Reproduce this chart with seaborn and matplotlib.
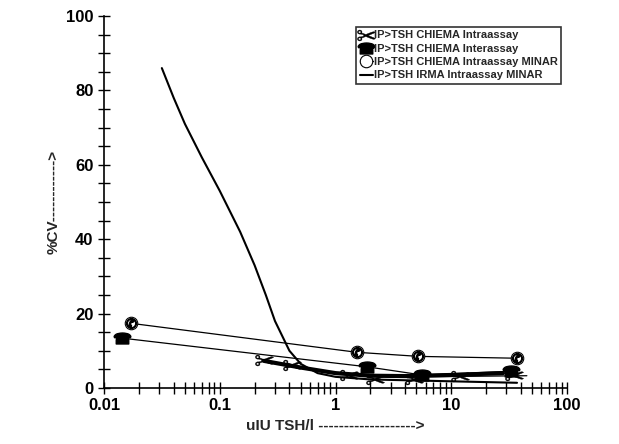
import matplotlib
matplotlib.use('Agg')
import matplotlib.pyplot as plt
import seaborn as sns
from matplotlib.ticker import MultipleLocator, LogLocator, FixedFormatter, FixedLocator

sns.set_theme(style='ticks')
plt.rcParams['font.family'] = ['Liberation Sans', 'DejaVu Sans']

# CHIEMA intraassay (scissors) and its fitted curve
intra_x = [0.24, 0.42, 1.3, 2.2, 4.8, 12, 35]
intra_y = [7.5, 6.2, 3.5, 2.5, 2.5, 3.2, 3.5]
intra_fit_x = [0.24, 0.5, 1.0, 2.0, 4.0, 10, 28]
intra_fit_y = [7.3, 5.5, 4.0, 3.3, 3.2, 3.5, 4.0]
intra_tail_x = [0.24, 1.0, 5.0, 45]
intra_tail_y = [7.5, 4.0, 3.0, 3.3]

# CHIEMA interassay (telephone)
inter_x = [0.0144, 1.87, 5.6, 33]
inter_y = [13.4, 5.7, 3.5, 4.5]

# CHIEMA intraassay MINAR
minar_x = [0.017, 1.53, 5.2, 37]
minar_y = [17.4, 9.6, 8.5, 8.0]

# IRMA intraassay MINAR
irma_x = [0.0316, 0.04, 0.05, 0.07, 0.1, 0.15, 0.2, 0.25, 0.3, 0.4, 0.5, 0.7, 1.0, 2.0, 10, 37]
irma_y = [86, 78, 71, 62, 53, 42, 33, 25, 18, 10, 6.5, 4, 3, 2.3, 1.8, 1.4]

fig = plt.figure(figsize=(6.19, 4.44), dpi=100)
ax = fig.add_axes([104 / 619, 1 - 388 / 444, 463 / 619, 372 / 444])

sns.lineplot(x=intra_tail_x, y=intra_tail_y, color='black', lw=0.9, ax=ax)
sns.lineplot(x=intra_fit_x, y=intra_fit_y, color='black', lw=3, ax=ax)
ax.plot(intra_x, intra_y, ls='none', marker='$\u2702$', ms=13, color='black', mew=0.3,
        label='IP>TSH CHIEMA Intraassay')
ax.plot(inter_x, inter_y, color='black', lw=0.9, marker='$\u260E$', ms=12,
        label='IP>TSH CHIEMA Interassay')
ax.plot(minar_x, minar_y, color='black', lw=0.9, marker='o', ms=9, mfc='white', mew=0.8,
        label='IP>TSH CHIEMA Intraassay MINAR')
ax.plot(minar_x, minar_y, ls='none', marker='$\u2706$', ms=7, color='black')
sns.lineplot(x=irma_x, y=irma_y, color='black', lw=1.5, ax=ax,
             label='IP>TSH IRMA Intraassay MINAR')

ax.set_xscale('log')
ax.set_xlim(0.01, 100)
ax.set_ylim(0, 100)
ax.xaxis.set_major_locator(FixedLocator([0.01, 0.1, 1, 10, 100]))
ax.xaxis.set_major_formatter(FixedFormatter(['0.01', '0.1', '1', '10', '100']))
ax.xaxis.set_minor_locator(LogLocator(base=10, subs=range(2, 10)))
ax.yaxis.set_major_locator(MultipleLocator(20))
ax.yaxis.set_minor_locator(MultipleLocator(5))
for lab in ax.get_xticklabels() + ax.get_yticklabels():
    lab.set_fontweight('bold')
ax.tick_params(which='both', direction='inout', colors='black', labelsize=12)
ax.tick_params(which='major', length=8, width=1)
ax.tick_params(which='minor', length=8, width=1)
for s in ['top', 'right']:
    ax.spines[s].set_visible(False)
for s in ['left', 'bottom']:
    ax.spines[s].set_color('black')
    ax.spines[s].set_linewidth(1.2)

ax.set_xlabel('uIU TSH/l ------------------->', fontsize=11, fontweight='bold')
ax.set_ylabel('%CV------------>', fontsize=11, fontweight='bold')

leg = ax.legend(loc='upper right', prop={'weight': 'bold', 'size': 8},
                frameon=True, fancybox=False, edgecolor='black', handlelength=1.2,
                handletextpad=0.1, borderpad=0.3, labelspacing=0.3,
                bbox_to_anchor=(1.0, 0.985))
leg.get_frame().set_linewidth(1.2)

fig.savefig('out.png', dpi=100)
